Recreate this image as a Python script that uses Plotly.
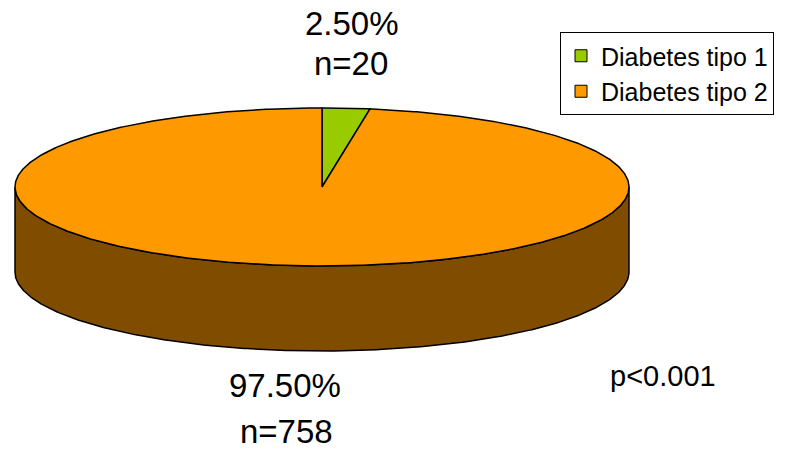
import numpy as np
import plotly.graph_objects as go

# ---- data ----
categories = ["Diabetes tipo 1", "Diabetes tipo 2"]
percents = [2.50, 97.50]
counts = [20, 758]
p_text = "p<0.001"

# ---- style ----
top_colors = ["#99CC00", "#FF9900"]
side_colors = ["#4D6600", "#7F4C00"]
FONT = "Liberation Sans, Arial, sans-serif"
W, H = 785, 449
CX, CY, RX, RY, DEPTH = 322, 187, 307, 79, 85


def pt(t_deg, dy=0.0):
    t = np.radians(np.asarray(t_deg, dtype=float))
    return CX + RX * np.sin(t), CY - RY * np.cos(t) + dy


fig = go.Figure()
total = sum(percents)
bounds = np.concatenate([[0.0], np.cumsum(percents) / total * 360.0])

# side walls (front half only visible: angles 90..270 clockwise from top)
for i in range(len(percents)):
    a0, a1 = bounds[i], bounds[i + 1]
    s, e = max(a0, 90.0), min(a1, 270.0)
    if e > s:
        ts = np.linspace(s, e, int((e - s) * 2) + 2)
        xt, yt = pt(ts)
        xb, yb = pt(ts[::-1], DEPTH)
        fig.add_trace(go.Scatter(
            x=np.concatenate([xt, xb, xt[:1]]),
            y=np.concatenate([yt, yb, yt[:1]]),
            mode="lines", fill="toself", fillcolor=side_colors[i],
            line=dict(color="black", width=1.5),
            showlegend=False, hoverinfo="skip"))

# top slices
for i in range(len(percents)):
    a0, a1 = bounds[i], bounds[i + 1]
    ts = np.linspace(a0, a1, int((a1 - a0) * 2) + 2)
    xs, ys = pt(ts)
    fig.add_trace(go.Scatter(
        x=np.concatenate([[CX], xs, [CX]]),
        y=np.concatenate([[CY], ys, [CY]]),
        mode="lines", fill="toself", fillcolor=top_colors[i],
        line=dict(color="black", width=1.5),
        showlegend=False, hoverinfo="skip"))

# legend entries
for i, name in enumerate(categories):
    fig.add_trace(go.Scatter(
        x=[None], y=[None], mode="markers", name=name,
        legendgroup=f"g{i}",
        marker=dict(symbol="square", size=12, color=top_colors[i],
                    line=dict(color="black", width=1))))

# labels
label_pos = [(352, 23, 351, 63), (285, 385, 286, 431)]
annotations = []
for i in range(len(percents)):
    px, py, nx, ny = label_pos[i]
    annotations.append(dict(x=px, y=py, xref="x", yref="y",
                            text=f"{percents[i]:.2f}%", showarrow=False,
                            xanchor="center", yanchor="middle",
                            font=dict(size=33, color="black", family=FONT)))
    annotations.append(dict(x=nx, y=ny, xref="x", yref="y",
                            text=f"n={counts[i]}", showarrow=False,
                            xanchor="center", yanchor="middle",
                            font=dict(size=33, color="black", family=FONT)))
annotations.append(dict(x=663, y=376, xref="x", yref="y", text=p_text,
                        showarrow=False, xanchor="center", yanchor="middle",
                        font=dict(size=29, color="black", family=FONT)))

fig.update_layout(
    width=W, height=H, autosize=False,
    margin=dict(l=0, r=0, t=0, b=0),
    paper_bgcolor="white", plot_bgcolor="white",
    xaxis=dict(range=[0, W], visible=False, fixedrange=True),
    yaxis=dict(range=[H, 0], visible=False, fixedrange=True),
    showlegend=True,
    legend=dict(x=560 / W, y=1 - 32 / H, xanchor="left", yanchor="top",
                bgcolor="white", bordercolor="black", borderwidth=1,
                font=dict(size=25, color="black", family=FONT),
                tracegroupgap=6, traceorder="normal"),
    annotations=annotations,
)

fig.write_html("out.html")
